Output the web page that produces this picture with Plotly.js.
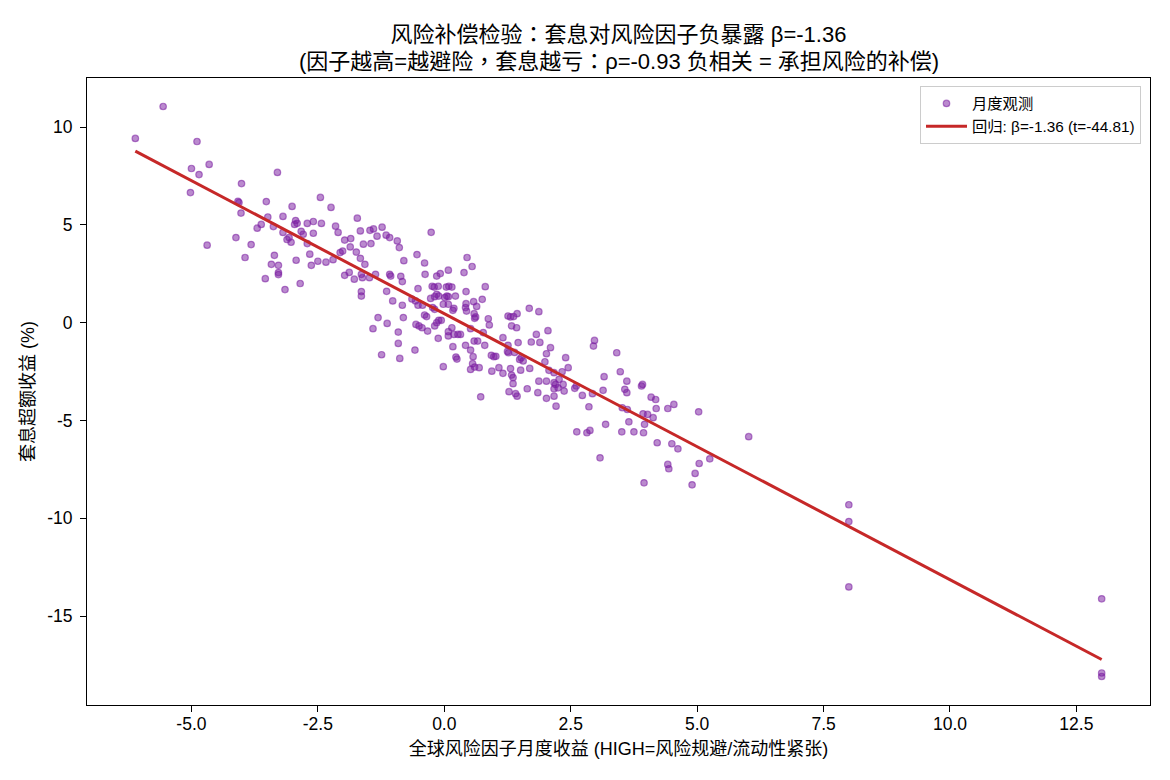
<!DOCTYPE html>
<html>
<head>
<meta charset="utf-8">
<script src="https://cdn.plot.ly/plotly-3.0.1.min.js"></script>
<style>
  html, body { margin: 0; padding: 0; background: #ffffff; }
  #chart { width: 1170px; height: 780px; }
</style>
</head>
<body>
<div id="chart"></div>
<script>
// Monthly global risk-factor return (%), HIGH = risk-off / liquidity stress
const factorReturn = [
  -5.56, -6.11, -4.89, -5.00, -4.65, -4.85, -5.02, -4.01, -4.06, -4.08, -4.02, -4.12, -4.69,
  -3.30, -3.52, -2.45, -3.01, -2.24, -3.49, -3.19, -2.94, -2.91, -2.96,
  -3.62, -3.70, -3.38, -2.71, -2.59, -2.43, -2.15, -2.10, -3.19, -2.83,
  -2.79, -2.59, -3.07, -3.11, -3.03, -3.82, -2.71, -2.66, -1.97, -2.01,
  -2.06, -3.94, -3.36, -2.93, -2.50, -2.34, -2.20, -2.63, -3.42, -3.28,
  -3.28, -3.28, -3.54, -2.85, -3.15, -1.97,
  -1.72, -1.66, -1.47, -1.40, -1.23, -1.33, -1.15, -1.08, -0.93, -0.89,
  -0.26, -1.85, -1.86, -1.60, -1.45, -1.74, -1.66, -1.57, -0.80, -0.54,
  -0.39, -1.88, -1.78, -1.64, -1.62, -1.48, -1.36, -1.08, -1.06, -0.86,
  -0.83, -0.38, -0.15, -0.08, 0.08, -0.52, -0.24, -0.20, -0.12, 0.04,
  -1.14, -1.64, -1.64, -1.02, -0.83, -0.64, -0.57, -0.52, -0.43, -0.27,
  -0.19, -0.15, -0.11, 0.01, 0.05, -0.23, -0.19, -0.02, 0.08, -1.31,
  -1.13, -1.41, -0.81, -0.91, -0.91, -0.56, -0.50, -0.44, -0.39, -0.35,
  -0.33, -0.19, -0.15, -0.11, -0.06, -0.12, 0.08, 0.08, -0.58, -1.24,
  0.45, 0.55, 0.39, 0.81, 0.09, 0.15, 0.43, 0.08, 0.22, 0.75,
  0.19, 0.17, 0.43, 0.42, 0.44, 0.58, 0.64, 0.59, 0.60, 0.62,
  0.87, 0.89, 0.15, 0.19, 0.27, 0.32, 0.52, 0.77, 0.59, 0.66,
  0.80, 0.17, 0.42, 0.52, 0.57, 0.23, 0.25, 0.56, 0.52, 0.60,
  0.69, -0.02, 1.16, 1.26, 1.25, 1.27, 1.46, 0.93, 0.98, 1.02,
  1.39, 1.52, 1.49, 1.56, 0.94, 1.08, 1.16, 1.31, 1.33, 1.36,
  1.51, 1.68, 1.87, 1.26, 1.31, 1.37, 1.44, 1.33, 1.43, 1.82,
  2.05, 1.72, 1.89, 2.10, 2.02, 1.69, 1.99, 2.07, 2.17, 1.87,
  2.02, 2.17, 1.36,
  2.97, 2.95, 3.41, 2.40, 2.45, 2.33, 3.48, 3.16, 3.61, 3.92,
  3.90, 2.20, 2.27, 2.35, 2.37, 2.25, 2.17, 2.17, 2.02, 2.58,
  2.61, 2.73, 2.93, 3.14, 2.86, 2.21, 3.57, 3.61, 3.52, 3.62,
  4.09, 4.18, 4.19, 3.93, 4.02, 4.13, 3.96, 3.65, 3.19, 2.62,
  2.82, 2.88, 3.51, 3.75, 3.94,
  4.42, 4.54, 5.03, 4.21, 4.50, 4.62, 6.02, 4.42, 4.44, 5.04,
  5.25, 4.96, 4.90, 8.00, 8.00, 8.00, 13.00, 13.00, 13.00, -0.88,
  1.28, 1.41, 1.44, 0.72, 1.64, 1.85, 3.08, 3.95
];

// Carry-trade monthly excess return (%)
const carryExcess = [
  11.05, 9.42, 9.26, 7.88, 8.09, 7.57, 6.65, 7.11, 6.14, 6.20, 5.60, 4.35, 3.96,
  7.68, 6.19, 6.40, 5.94, 5.89, 5.40, 5.43, 5.22, 5.08, 5.02,
  5.02, 4.83, 4.91, 5.07, 5.17, 5.07, 4.93, 4.61, 4.61, 4.67,
  4.52, 4.57, 4.35, 4.25, 4.11, 3.99, 4.04, 3.50, 4.22, 3.66,
  3.58, 3.33, 3.44, 3.19, 3.14, 3.09, 3.22, 2.93, 2.98, 2.93,
  2.56, 2.46, 2.25, 2.00, 1.69, 2.42,
  5.34, 4.69, 4.72, 4.79, 4.88, 4.42, 4.47, 4.35, 4.18, 3.84,
  4.62, 4.30, 3.87, 4.01, 4.04, 3.61, 3.29, 2.98, 3.17, 3.48,
  3.05, 2.57, 2.22, 2.47, 2.30, 2.30, 2.47, 2.47, 2.38, 2.37,
  2.10, 2.47, 2.38, 2.51, 2.68, 1.74, 1.86, 1.82, 1.86, 1.82,
  1.60, 1.59, 1.36, 1.11, 0.89, 1.21, 1.11, 0.89, 0.89, 1.24,
  1.33, 1.45, 1.36, 1.28, 1.36, 0.77, 0.68, 0.94, 0.94, 0.26,
  -0.04, -0.31, 0.26, -0.48, -1.06, -0.09, -0.17, -0.26, 0.39, 0.31,
  -0.43, -0.17, 0.00, 0.12, 0.12, -0.80, -0.46, -0.68, -1.40, -1.64,
  3.33, 2.87, 2.56, 1.84, 1.86, 1.82, 1.59, 1.33, 1.36, 1.19,
  0.73, 0.63, 0.97, 0.77, 0.59, 1.07, 0.83, 0.46, 0.22, 0.29,
  0.20, -0.12, -0.26, -0.60, -0.60, -0.60, -0.31, -0.51, -0.94, -0.94,
  -1.16, -1.23, -1.16, -1.40, -1.74, -1.76, -1.86, -2.10, -2.39, -2.27,
  -2.30, -2.25, -0.77, -1.16, -1.47, -1.54, -1.02, -1.67, -1.74, -1.72,
  -1.52, -1.79, -1.88, -1.96, -2.48, -2.30, -2.59, -2.35, -2.68, -2.81,
  -2.43, 0.73, 0.56, 0.34, 0.29, 0.31, 0.46, -0.17, -0.26, -0.60,
  -0.41, -0.99, -1.01, -1.28, -1.59, -2.34, -2.00, -2.44, -2.56, -2.99,
  -2.99, -3.07, -3.12,
  -0.91, -1.20, -1.54, -1.79, -2.30, -2.51, -2.51, -2.76, -2.99, -3.16,
  -3.24, -3.16, -2.90, -3.16, -3.50, -3.33, -3.38, -3.76, -3.87, -3.36,
  -3.24, -3.72, -3.63, -3.46, -4.30, -4.27, -3.41, -3.58, -4.35, -4.44,
  -3.81, -3.93, -4.39, -4.66, -4.69, -4.86, -5.20, -5.07, -5.20, -5.58,
  -5.63, -5.51, -5.58, -5.58, -5.63,
  -4.39, -4.18, -4.56, -6.14, -6.19, -6.45, -5.83, -7.25, -7.47, -7.20,
  -6.96, -7.71, -8.29, -9.31, -10.17, -13.51, -14.12, -17.91, -18.09, -1.83,
  -3.53, -3.63, -3.76, -3.79, -3.38, -3.58, -6.91, -8.19
];

// OLS fit reported in the legend
const fitBeta = -1.36;
const fitIntercept = 0.46;
const fitT = -44.81;
const rho = -0.93;

const xTickVals = [-5, -2.5, 0, 2.5, 5, 7.5, 10, 12.5];
const xTickText = xTickVals.map(v => v.toFixed(1));
const yTickVals = [-15, -10, -5, 0, 5, 10];
const yTickText = yTickVals.map(v => String(v));

const FONT = '"Liberation Sans", Arial, "Noto Sans CJK SC", sans-serif';
// centred full-width punctuation for the heading
const TITLE_FONT = '"Liberation Sans", Arial, "Noto Sans CJK TC", sans-serif';

// regression line spans the observed factor range
const xMin = Math.min(...factorReturn);
const xMax = Math.max(...factorReturn);
const lineX = [xMin, xMax];
const lineY = lineX.map(x => fitIntercept + fitBeta * x);

// 5% padding around the data, like default autoscaling
function padded(vals) {
  const lo = Math.min(...vals), hi = Math.max(...vals);
  const p = (hi - lo) * 0.05;
  return [lo - p, hi + p];
}
const xRange = padded(factorReturn.concat(lineX));
const yRange = padded(carryExcess.concat(lineY));

const scatter = {
  type: 'scatter',
  mode: 'markers',
  name: '月度观测',
  x: factorReturn,
  y: carryExcess,
  marker: {
    size: 6.5,
    color: 'rgba(123,31,162,0.52)',
    line: { color: 'rgba(123,31,162,0.55)', width: 1.2 }
  },
  hoverinfo: 'x+y'
};

const fitLine = {
  type: 'scatter',
  mode: 'lines',
  name: '回归: β=' + fitBeta.toFixed(2) + ' (t=' + fitT.toFixed(2) + ')',
  x: lineX,
  y: lineY,
  line: { color: '#c62828', width: 3 }
};

const axisCommon = {
  showgrid: false,
  zeroline: false,
  showline: true,
  mirror: true,
  linecolor: '#000000',
  linewidth: 1,
  ticks: 'outside',
  ticklen: 6,
  tickwidth: 1,
  tickcolor: '#000000',
  tickfont: { family: FONT, size: 17.5, color: '#000000' }
};

const layout = {
  width: 1170,
  height: 780,
  paper_bgcolor: '#ffffff',
  plot_bgcolor: '#ffffff',
  margin: { l: 87, r: 20, t: 78, b: 75 },
  font: { family: FONT, color: '#000000' },
  title: {
    text: '风险补偿检验：套息对风险因子负暴露 β=' + fitBeta.toFixed(2),
    font: { family: TITLE_FONT, size: 22, color: '#000000' },
    x: 0.5,
    xref: 'paper',
    xanchor: 'center',
    y: 1 - 34 / 780,
    yref: 'container',
    yanchor: 'middle'
  },
  annotations: [{
    text: '(因子越高=越避险，套息越亏：ρ=' + rho.toFixed(2) + ' 负相关 = 承担风险的补偿)',
    font: { family: TITLE_FONT, size: 22, color: '#000000' },
    showarrow: false,
    xref: 'paper',
    x: 0.5,
    xanchor: 'center',
    yref: 'paper',
    y: 1 + (78 - 62) / 627,
    yanchor: 'middle'
  }],
  xaxis: Object.assign({}, axisCommon, {
    range: xRange,
    tickvals: xTickVals,
    ticktext: xTickText,
    ticklabelstandoff: -3,
    title: {
      text: '全球风险因子月度收益 (HIGH=风险规避/流动性紧张)',
      font: { family: FONT, size: 18, color: '#000000' },
      standoff: 9
    }
  }),
  yaxis: Object.assign({}, axisCommon, {
    range: yRange,
    tickvals: yTickVals,
    ticktext: yTickText,
    ticklabelstandoff: 4,
    title: {
      text: '套息超额收益 (%)',
      font: { family: FONT, size: 18, color: '#000000' },
      standoff: 7
    }
  }),
  showlegend: true,
  legend: {
    x: 1 - 9 / 1063,
    xanchor: 'right',
    y: 1 - 8 / 627,
    yanchor: 'top',
    bgcolor: 'rgba(255,255,255,0.9)',
    bordercolor: '#cccccc',
    borderwidth: 1,
    itemwidth: 41,
    font: { family: FONT, size: 15.3, color: '#000000' },
    tracegroupgap: 0
  }
};

Plotly.newPlot('chart', [scatter, fitLine], layout, { displayModeBar: false, staticPlot: true });
</script>
</body>
</html>
